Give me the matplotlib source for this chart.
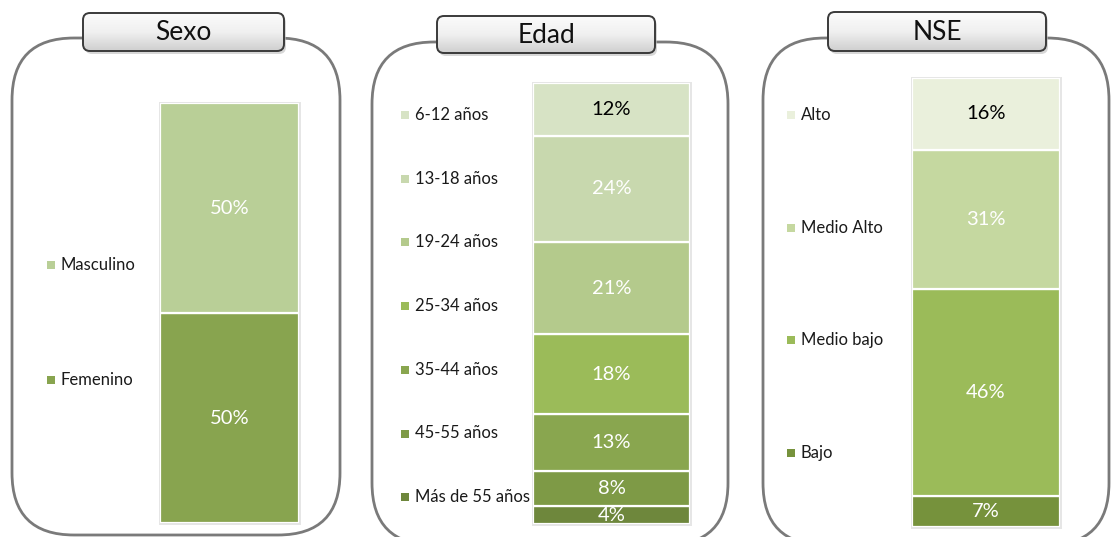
import matplotlib
matplotlib.use("Agg")
import matplotlib.pyplot as plt
import numpy as np
from matplotlib.patches import FancyBboxPatch, Rectangle
from matplotlib.colors import LinearSegmentedColormap

plt.rcParams['font.family'] = ['Lato', 'DejaVu Sans']

# ---------------- data (bottom to top) ----------------
sexo_title = "Sexo"
sexo_labels = ["Femenino", "Masculino"]
sexo_values = [50, 50]
sexo_colors = ["#88A44F", "#B9CF97"]
sexo_text_colors = ["white", "white"]

edad_title = "Edad"
edad_labels = ["Más de 55 años", "45-55 años", "35-44 años", "25-34 años",
               "19-24 años", "13-18 años", "6-12 años"]
edad_values = [4, 8, 13, 18, 21, 24, 12]
edad_colors = ["#6E873C", "#7E9A46", "#89A64F", "#9BBB59",
               "#B4CA8C", "#C8D8AE", "#D7E3C5"]
edad_text_colors = ["white"] * 6 + ["black"]

nse_title = "NSE"
nse_labels = ["Bajo", "Medio bajo", "Medio Alto", "Alto"]
nse_values = [7, 46, 31, 16]
nse_colors = ["#76923C", "#9BBB59", "#C5D8A0", "#EAF0DC"]
nse_text_colors = ["white", "white", "white", "black"]

W, H = 1112, 537
fig = plt.figure(figsize=(W / 100, H / 100), dpi=100)
bg = fig.add_axes([0, 0, 1, 1])
bg.set_xlim(0, W)
bg.set_ylim(H, 0)
bg.axis("off")

# layout (pixel coords)
panels = [
    dict(title=sexo_title, labels=sexo_labels, values=sexo_values, colors=sexo_colors,
         tcolors=sexo_text_colors,
         box=(12, 38, 340, 535), tbox=(83, 13, 284, 51),
         bar=(160, 103, 299, 523), leg_x=47, leg_top=265, leg_step=115),
    dict(title=edad_title, labels=edad_labels, values=edad_values, colors=edad_colors,
         tcolors=edad_text_colors,
         box=(372, 42, 728, 545), tbox=(437, 16, 655, 53),
         bar=(533, 83, 690, 524), leg_x=401, leg_top=115, leg_step=63.7),
    dict(title=nse_title, labels=nse_labels, values=nse_values, colors=nse_colors,
         tcolors=nse_text_colors,
         box=(763, 38, 1109, 545), tbox=(828, 12, 1046, 51),
         bar=(912, 78, 1060, 527), leg_x=787, leg_top=115, leg_step=112.7),
]

grad = np.linspace(0, 1, 64).reshape(-1, 1)
gcmap = LinearSegmentedColormap.from_list("g", ["#FBFBFB", "#F0F0F0", "#CFCFCF"])

for p in panels:
    x0, y0, x1, y1 = p["box"]
    outer = FancyBboxPatch((x0, y0), x1 - x0, y1 - y0,
                           boxstyle="round,pad=0,rounding_size=62",
                           fc="white", ec="#7A7A7A", lw=2.0, zorder=1)
    bg.add_patch(outer)

    # title box with shadow and gradient
    tx0, ty0, tx1, ty1 = p["tbox"]
    shadow = FancyBboxPatch((tx0 + 2, ty0 + 3), tx1 - tx0, ty1 - ty0,
                            boxstyle="round,pad=0,rounding_size=7",
                            fc="#BDBDBD", ec="none", alpha=0.6, zorder=2)
    bg.add_patch(shadow)
    tb = FancyBboxPatch((tx0, ty0), tx1 - tx0, ty1 - ty0,
                        boxstyle="round,pad=0,rounding_size=7",
                        fc="none", ec="#3A3A3A", lw=1.4, zorder=4)
    bg.add_patch(tb)
    im = bg.imshow(grad, cmap=gcmap, extent=(tx0, tx1, ty1, ty0),
                   aspect="auto", zorder=3, interpolation="bilinear")
    clip = FancyBboxPatch((tx0, ty0), tx1 - tx0, ty1 - ty0,
                          boxstyle="round,pad=0,rounding_size=7",
                          fc="none", ec="none", transform=bg.transData)
    bg.add_patch(clip)
    im.set_clip_path(clip)
    bg.text((tx0 + tx1) / 2, (ty0 + ty1) / 2 + 1, p["title"], ha="center", va="center",
            fontsize=19, color="#111111", zorder=5)

    # bar shadow
    bx0, by0, bx1, by1 = p["bar"]
    bg.add_patch(Rectangle((bx0 - 1, by0 - 1), bx1 - bx0 + 3, by1 - by0 + 3,
                           fc="#E6E6E6", ec="none", zorder=2))

    # legend (top to bottom = reversed series order)
    labs = p["labels"][::-1]
    cols = p["colors"][::-1]
    for i, (lab, c) in enumerate(zip(labs, cols)):
        yy = p["leg_top"] + i * p["leg_step"]
        bg.add_patch(Rectangle((p["leg_x"], yy - 4), 8, 8, fc=c, ec="none", zorder=5))
        bg.text(p["leg_x"] + 14, yy, lab, ha="left", va="center",
                fontsize=12, color="#1A1A1A", zorder=6)

    # stacked bar on its own axes
    ax = fig.add_axes([bx0 / W, 1 - by1 / H, (bx1 - bx0) / W, (by1 - by0) / H])
    ax.set_xlim(-0.5, 0.5)
    ax.set_ylim(0, sum(p["values"]))
    ax.axis("off")
    ax.patch.set_alpha(0)
    bottom = 0
    for v, c, tc in zip(p["values"], p["colors"], p["tcolors"]):
        ax.bar(0, v, width=1.0, bottom=bottom, color=c, edgecolor="white",
               linewidth=1.6, zorder=2)
        ax.text(0, bottom + v / 2, f"{v}%", ha="center", va="center",
                fontsize=14.5, color=tc, zorder=3)
        bottom += v

fig.savefig("out.png", dpi=100)
